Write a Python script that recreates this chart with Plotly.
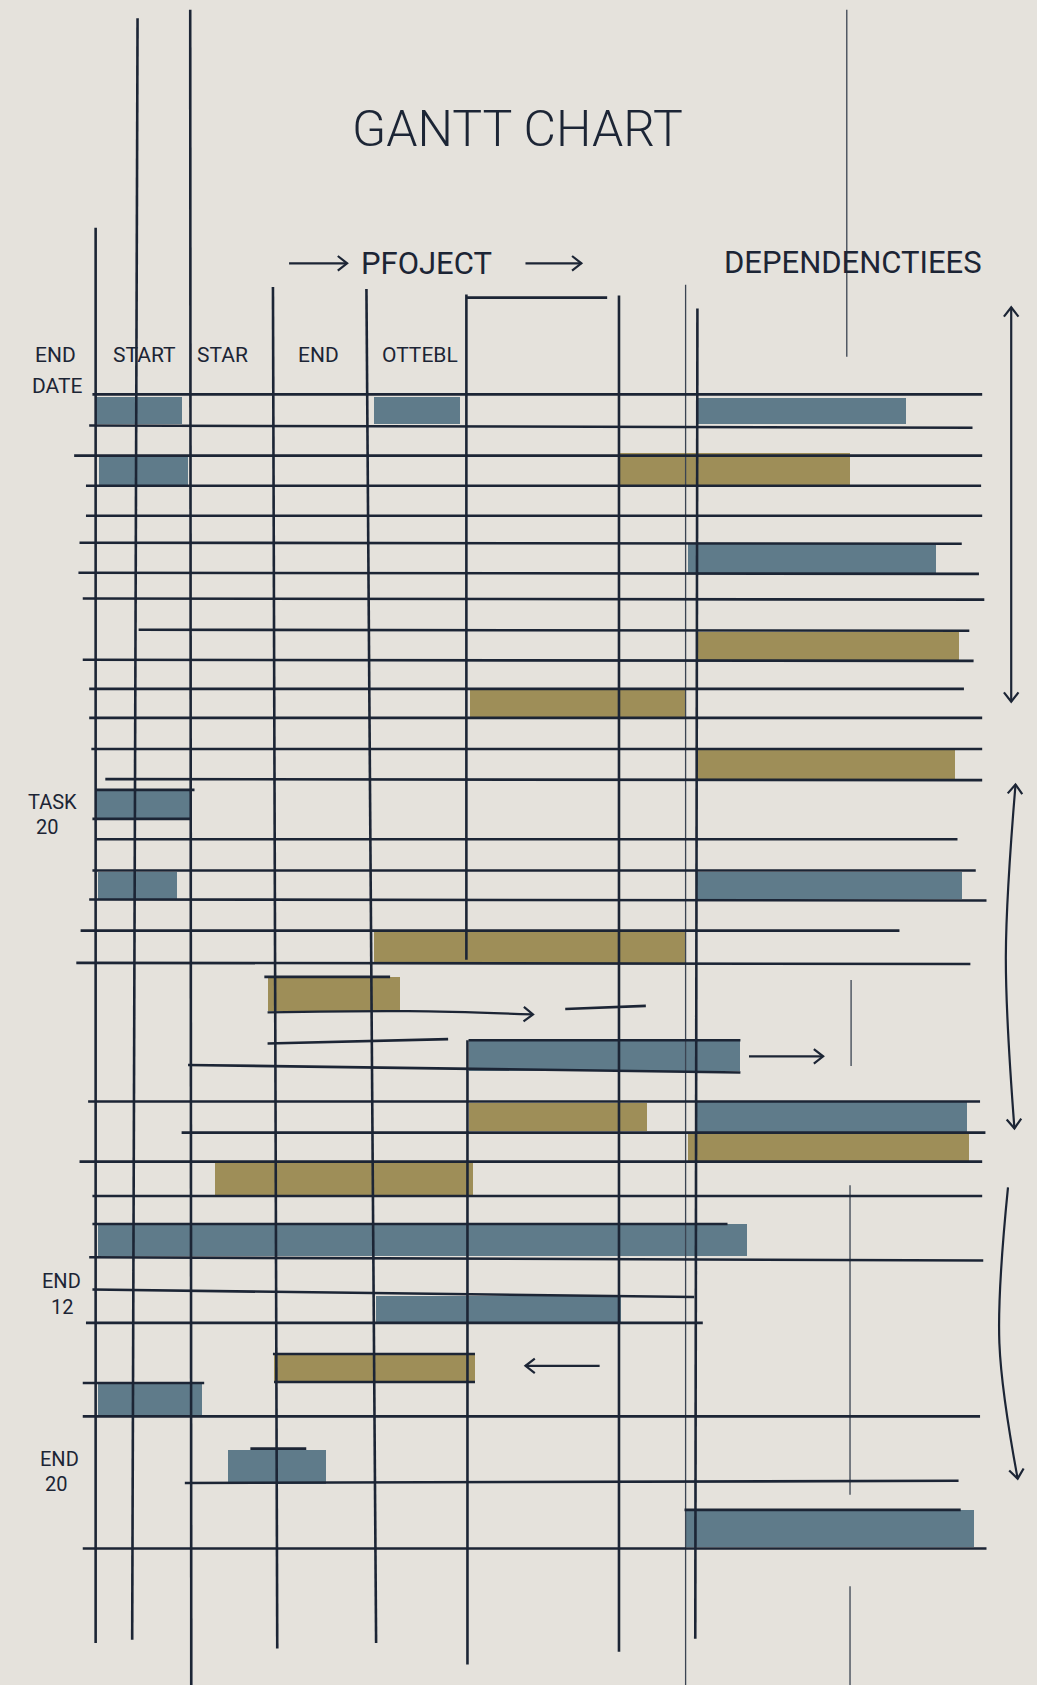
import math
import plotly.graph_objects as go

# ---------------- data (sketch units, y grows downward) ----------------
# task bars
bar_x0 = [89, 348, 648, 92, 577, 640, 649, 437, 649, 89, 91, 649, 348, 249, 436, 436, 649, 640, 200, 91, 350, 255, 91, 212, 637]
bar_x1 = [169, 428, 843, 175, 791, 871, 892, 638, 889, 178, 165, 895, 638, 372, 689, 602, 900, 902, 440, 695, 578, 442, 188, 303, 906]
bar_y0 = [369, 369, 370, 424, 422, 506, 588, 642, 698, 735, 811, 811, 867, 909, 968, 1026, 1025, 1054, 1082, 1139, 1206, 1260, 1287, 1349, 1405]
bar_y1 = [395, 395, 395, 452, 452, 533, 614, 668, 725, 762, 837, 837, 896, 941, 997, 1052, 1053, 1081, 1112, 1169, 1231, 1287, 1319, 1381, 1440]
bar_kind = ["blue", "blue", "blue", "blue", "olive", "blue", "olive", "olive", "olive", "blue",
            "blue", "blue", "olive", "olive", "blue", "olive", "blue", "olive", "olive", "blue",
            "blue", "olive", "blue", "blue", "blue"]

# horizontal rules
h_x0 = [86, 83, 69, 80, 80, 74, 73, 77, 129, 77, 83, 83, 85, 98, 89, 86, 89, 86, 83, 75, 71,
        246, 526, 249, 436, 175, 82, 169, 74, 86, 86, 83, 86, 80, 254, 255, 77, 77, 233, 172, 637, 77, 434]
h_x1 = [914, 905, 914, 913, 914, 895, 911, 916, 902, 906, 897, 914, 914, 914, 181, 178, 891, 908, 918, 837, 903,
        363, 601, 417, 689, 689, 912, 917, 914, 914, 677, 915, 646, 654, 442, 442, 190, 912, 285, 892, 894, 918, 565]
h_yl = [367, 396, 424, 452, 480, 505, 533, 557, 586, 614, 641, 668, 697, 725, 735, 762, 781, 810, 837, 866, 896,
        909, 939, 971, 968, 991, 1025, 1054, 1081, 1113, 1139, 1170, 1200, 1231, 1260, 1286, 1287, 1318, 1348, 1380, 1405, 1441, 277]
h_yr = [367, 398, 424, 452, 480, 506, 534, 558, 587, 615, 641, 668, 697, 726, 735, 762, 781, 810, 838, 866, 897,
        909, 936, 967, 968, 998, 1025, 1054, 1081, 1113, 1139, 1173, 1207, 1231, 1260, 1286, 1287, 1318, 1348, 1378, 1405, 1441, 277]

# vertical rules
v_xt = [89, 128, 177, 254, 341, 434, 435, 576, 649]
v_xb = [89, 123, 178, 258, 350, 434, 435, 576, 647]
v_y0 = [212, 17, 9, 267, 269, 274, 968, 275, 287]
v_y1 = [1529, 1526, 1568, 1534, 1529, 893, 1549, 1537, 1525]

# thin guide lines
t_x = [638, 788, 792, 791, 791]
t_y0 = [265, 9, 912, 1103, 1476]
t_y1 = [1568, 332, 992, 1391, 1568]

# arrows: polyline points, head at start / end
arrow_xs = [[269, 323], [489, 541], [249, 380, 496], [697, 766], [558, 489],
            [941, 941], [945, 936, 944], [938, 930, 947]]
arrow_ys = [[245, 245], [245, 245], [942, 941, 944], [983, 983], [1271, 1271],
            [286, 653], [730, 890, 1050], [1105, 1250, 1376]]
arrow_head_start = [False, False, False, False, False, True, True, False]
arrow_head_end = [True, True, True, True, True, True, True, True]

# texts
title_text = "GANTT CHART"
header_texts = ["END", "DATE", "START", "STAR", "END", "OTTEBL", "PFOJECT", "DEPENDENCTIEES"]
header_x = [52, 53, 134, 207, 296, 391, 397, 794]
header_y = [330, 359, 330, 330, 330, 330, 245, 244]
side_texts = ["TASK", "20", "END", "12", "END", "20"]
side_x = [49, 44, 57, 58, 55, 52]
side_y = [746, 770, 1192, 1216, 1358, 1381]

# ---------------- styling ----------------
W, H = 1037, 1685
XR, YR = 965, 1568
BG = "#e5e2dc"
INK = "#1c2535"
THIN = "#3b4452"
COLORS = {"blue": "#5f7b8a", "olive": "#9e8e58"}

fig = go.Figure()

# bars
for kind in ["blue", "olive"]:
    idx = [i for i, k in enumerate(bar_kind) if k == kind]
    fig.add_trace(go.Bar(
        orientation="h",
        y=[(bar_y0[i] + bar_y1[i]) / 2 for i in idx],
        x=[bar_x1[i] - bar_x0[i] for i in idx],
        base=[bar_x0[i] for i in idx],
        width=[bar_y1[i] - bar_y0[i] for i in idx],
        marker=dict(color=COLORS[kind], line=dict(width=0)),
        hoverinfo="skip",
    ))

# thin lines
tx, ty = [], []
for x, a, b in zip(t_x, t_y0, t_y1):
    tx += [x, x, None]
    ty += [a, b, None]
fig.add_trace(go.Scatter(x=tx, y=ty, mode="lines", line=dict(color=THIN, width=1.3), hoverinfo="skip"))

# grid lines
gx, gy = [], []
for x0, x1, yl, yr in zip(h_x0, h_x1, h_yl, h_yr):
    gx += [x0, x1, None]
    gy += [yl, yr, None]
for xt, xb, y0, y1 in zip(v_xt, v_xb, v_y0, v_y1):
    gx += [xt, xb, None]
    gy += [y0, y1, None]
fig.add_trace(go.Scatter(x=gx, y=gy, mode="lines", line=dict(color=INK, width=2.6), hoverinfo="skip"))


# arrows
def chevron(xa, ya, xb, yb, size=11, ang=38):
    dx, dy = xb - xa, yb - ya
    n = math.hypot(dx, dy)
    ux, uy = dx / n, dy / n
    pts = []
    for s in (1, -1):
        a = math.radians(ang) * s
        rx = ux * math.cos(a) - uy * math.sin(a)
        ry = ux * math.sin(a) + uy * math.cos(a)
        pts.append((xb - size * rx, yb - size * ry))
    return [pts[0][0], xb, pts[1][0], None], [pts[0][1], yb, pts[1][1], None]


ax_, ay_ = [], []
for xs, ys, hs, he in zip(arrow_xs, arrow_ys, arrow_head_start, arrow_head_end):
    fig.add_trace(go.Scatter(x=xs, y=ys, mode="lines", line=dict(color=INK, width=2.2, shape="spline"),
                             hoverinfo="skip"))
    if he:
        cx, cy = chevron(xs[-2], ys[-2], xs[-1], ys[-1])
        ax_ += cx
        ay_ += cy
    if hs:
        cx, cy = chevron(xs[1], ys[1], xs[0], ys[0])
        ax_ += cx
        ay_ += cy
fig.add_trace(go.Scatter(x=ax_, y=ay_, mode="lines", line=dict(color=INK, width=2.2), hoverinfo="skip"))

# texts
annotations = [dict(x=482, y=120, xref="x", yref="y", text=title_text, showarrow=False,
                    font=dict(family="Roboto", size=50, color=INK, weight=300))]
for t, x, y in zip(header_texts, header_x, header_y):
    big = t in ("PFOJECT", "DEPENDENCTIEES")
    annotations.append(dict(x=x, y=y, xref="x", yref="y", text=t, showarrow=False,
                            font=dict(family="Roboto", size=31 if big else 21, color=INK, weight=400)))
for t, x, y in zip(side_texts, side_x, side_y):
    annotations.append(dict(x=x, y=y, xref="x", yref="y", text=t, showarrow=False,
                            font=dict(family="Roboto", size=20, color=INK, weight=400)))

fig.update_layout(
    width=W, height=H,
    margin=dict(l=0, r=0, t=0, b=0),
    paper_bgcolor=BG, plot_bgcolor=BG,
    barmode="overlay", bargap=0,
    showlegend=False,
    annotations=annotations,
    xaxis=dict(range=[0, XR], visible=False, fixedrange=True),
    yaxis=dict(range=[YR, 0], visible=False, fixedrange=True),
)

fig.write_html(
    "out.html",
    config={"displayModeBar": False},
    post_script="document.body.style.margin='0';document.body.style.overflow='hidden';"
                "document.body.style.background='" + BG + "';",
)
